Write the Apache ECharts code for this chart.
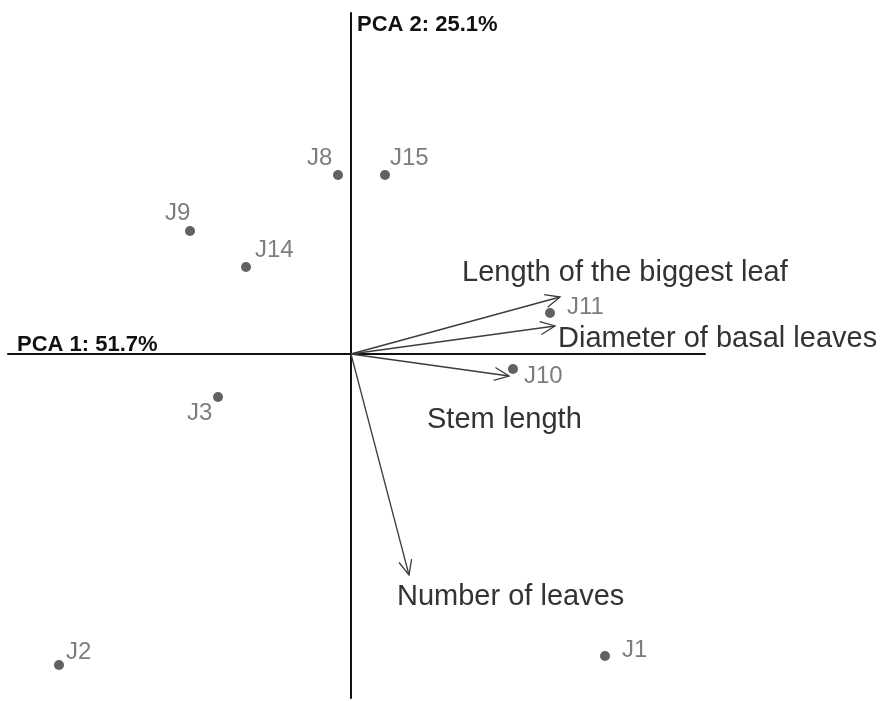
<!DOCTYPE html>
<html>
<head>
<meta charset="utf-8">
<script src="https://cdn.jsdelivr.net/npm/echarts@6/dist/echarts.min.js"></script>
<style>
  html, body { margin: 0; padding: 0; background: #ffffff; }
  #chart { width: 880px; height: 701px; }
</style>
</head>
<body>
<div id="chart"></div>
<script>
// Sample scores on the first two principal components
var sampleNames = ['J8', 'J15', 'J9', 'J14', 'J11', 'J10', 'J3', 'J2', 'J1'];
var sampleX = [-0.13, 0.34, -1.61, -1.05, 1.99, 1.62, -1.33, -2.92, 2.54];
var sampleY = [1.79, 1.79, 1.23, 0.87, 0.41, -0.15, -0.43, -3.11, -3.02];

// Variable loadings (arrows from the origin)
var variableNames = ['Length of the biggest leaf', 'Diameter of basal leaves', 'Stem length', 'Number of leaves'];
var loadingX = [2.09, 2.04, 1.58, 0.58];
var loadingY = [0.57, 0.28, -0.22, -2.21];

// Axis titles
var axisTitleX = 'PCA 1: 51.7%';
var axisTitleY = 'PCA 2: 25.1%';

// Label placement (pixel offsets from the mark), kept apart from the data
var sampleLabelOffset = {
  J8: [-31, -17], J15: [5, -17], J9: [-25, -18], J14: [9, -17],
  J11: [17, -6], J10: [11, 7], J3: [-31, 16], J2: [7, -13], J1: [17, -6]
};
var variableLabelOffset = {
  'Length of the biggest leaf': [-98, -24],
  'Diameter of basal leaves': [3, 13],
  'Stem length': [-82, 44],
  'Number of leaves': [-12, 22]
};

var FONT = '"Liberation Sans", Arial, sans-serif';

var scores = sampleNames.map(function (n, i) {
  return {
    name: n,
    value: [sampleX[i], sampleY[i]],
    label: { offset: sampleLabelOffset[n] || [0, 0] }
  };
});
var loadings = variableNames.map(function (n, i) { return [loadingX[i], loadingY[i]]; });

function renderArrow(params, api) {
  var o = api.coord([0, 0]);
  var e = api.coord([api.value(0), api.value(1)]);
  var name = variableNames[params.dataIndex];
  var ang = Math.atan2(e[1] - o[1], e[0] - o[0]);
  var headLen = 16, spread = 0.42;
  var h1 = [e[0] - headLen * Math.cos(ang - spread), e[1] - headLen * Math.sin(ang - spread)];
  var h2 = [e[0] - headLen * Math.cos(ang + spread), e[1] - headLen * Math.sin(ang + spread)];
  var off = variableLabelOffset[name] || [0, 0];
  var stroke = { stroke: '#3c3c3c', lineWidth: 1.3, fill: null };
  return {
    type: 'group',
    children: [
      { type: 'line', shape: { x1: o[0], y1: o[1], x2: e[0], y2: e[1] }, style: stroke },
      { type: 'polyline', shape: { points: [h1, e, h2] }, style: stroke },
      {
        type: 'text',
        x: e[0] + off[0], y: e[1] + off[1],
        style: {
          text: name, fill: '#333333', font: '29px ' + FONT,
          align: 'left', verticalAlign: 'middle'
        }
      }
    ]
  };
}

var chart = echarts.init(document.getElementById('chart'), null, { renderer: 'canvas' });

chart.setOption({
  backgroundColor: '#ffffff',
  animation: false,
  grid: { left: 8, right: 175, top: 13, bottom: 3, containLabel: false },
  xAxis: {
    type: 'value', min: -3.43, max: 3.54,
    axisLine: { onZero: true, lineStyle: { color: '#111111', width: 2 } },
    axisTick: { show: false }, axisLabel: { show: false }, splitLine: { show: false }
  },
  yAxis: {
    type: 'value', min: -3.44, max: 3.41,
    axisLine: { onZero: true, lineStyle: { color: '#111111', width: 2 } },
    axisTick: { show: false }, axisLabel: { show: false }, splitLine: { show: false }
  },
  graphic: [
    {
      type: 'text', left: 17, top: 334,
      style: { text: axisTitleX, fill: '#111111', font: 'bold 22px ' + FONT }
    },
    {
      type: 'text', left: 357, top: 14,
      style: { text: axisTitleY, fill: '#111111', font: 'bold 22px ' + FONT }
    }
  ],
  series: [
    {
      type: 'custom',
      coordinateSystem: 'cartesian2d',
      clip: false,
      renderItem: renderArrow,
      data: loadings,
      z: 3
    },
    {
      type: 'scatter',
      data: scores,
      symbol: 'circle',
      symbolSize: 10,
      itemStyle: { color: '#3a3a3a' },
      z: 4,
      label: {
        show: true,
        position: 'inside',
        align: 'left',
        verticalAlign: 'middle',
        color: '#5c5c5c',
        fontFamily: FONT,
        fontSize: 24,
        formatter: '{b}'
      },
      emphasis: { disabled: true }
    }
  ]
});
</script>
</body>
</html>
